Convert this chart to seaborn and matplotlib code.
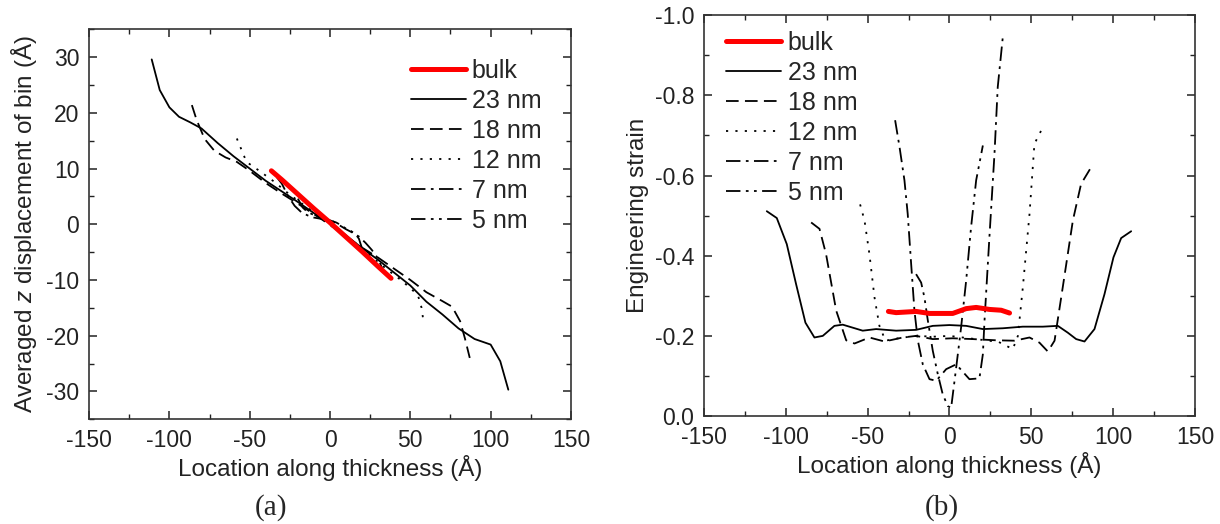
import numpy as np
import matplotlib
matplotlib.use("Agg")
import matplotlib.pyplot as plt
from matplotlib.ticker import MultipleLocator
import seaborn as sns

# ---------------- panel (a): averaged z displacement ----------------
a_bulk_x = [-36.5, -30, -20, -10, 0, 10, 20, 30, 38]
a_bulk_y = [9.6, 8.0, 5.4, 2.8, 0.3, -2.3, -4.9, -7.6, -9.7]

a_23_x = [-111, -106, -100, -94, -87, -80, -70, -60, -50, -40, -30, -20, -10, 0,
          10, 20, 30, 40, 50, 60, 70, 80, 90, 100, 106, 111]
a_23_y = [29.6, 24.1, 21.0, 19.3, 18.3, 17.2, 14.6, 12.2, 10.0, 7.8, 5.9, 4.0, 2.0, 0.2,
          -2.0, -4.3, -6.4, -8.7, -11.0, -13.9, -16.2, -18.7, -20.6, -21.6, -24.6, -29.7]

a_18_x = [-86, -83, -78, -72, -65, -58, -50, -40, -30, -20, -10, 0, 10, 20, 30, 40,
          50, 60, 70, 76, 81, 84, 87]
a_18_y = [21.4, 18.7, 15.3, 13.2, 12.0, 11.2, 9.6, 7.4, 5.5, 3.7, 1.8, -0.1, -2.2, -4.2,
          -6.0, -8.0, -10.0, -12.2, -13.8, -14.8, -17.4, -20.5, -24.0]

a_12_x = [-58, -55, -52, -45, -35, -25, -15, -5, 5, 15, 25, 35, 45, 52, 55, 57, 58]
a_12_y = [15.4, 13.3, 11.2, 9.8, 7.7, 5.3, 3.2, 1.0, -1.2, -3.4, -5.6, -8.0, -10.2,
          -12.0, -13.0, -15.0, -17.1]

a_7_x = [-33, -30, -26, -22, -18, -14, -10, -6, -2, 2, 6, 10, 14, 18, 22, 26, 30, 33]
a_7_y = [8.4, 7.3, 5.0, 3.3, 2.2, 1.6, 1.2, 1.0, 0.8, 0.5, -0.2, -0.9, -1.5, -2.2,
         -3.3, -4.6, -6.2, -8.3]

a_5_x = [-20, -17, -14, -11, -8, -5, -2, 1, 4, 7, 10, 13, 16, 18, 20]
a_5_y = [4.6, 3.0, 2.2, 1.8, 1.6, 1.2, 0.9, 0.6, 0.3, -0.2, -0.8, -1.2, -1.8, -2.6, -4.4]

# ---------------- panel (b): engineering strain ----------------
b_bulk_x = [-37.3, -32.6, -20.4, -12.2, 2.0, 10.2, 16.3, 24.4, 31.6, 36.7]
b_bulk_y = [-0.261, -0.258, -0.261, -0.256, -0.256, -0.268, -0.271, -0.266, -0.264, -0.257]

b_23_x = [-111.6, -105.5, -99.4, -93.7, -88.0, -82.5, -77.4, -70.3, -65.2, -53.0, -44.8,
          -32.6, -20.4, -10.2, 0, 10.2, 20.4, 32.6, 44.8, 57.0, 66.2, 72.3, 77.4, 82.5,
          88.6, 94.7, 100.2, 104.9, 111.0]
b_23_y = [-0.511, -0.494, -0.429, -0.329, -0.233, -0.196, -0.200, -0.225, -0.228, -0.213,
          -0.217, -0.213, -0.215, -0.225, -0.227, -0.225, -0.217, -0.219, -0.223, -0.223,
          -0.225, -0.208, -0.192, -0.186, -0.217, -0.304, -0.396, -0.444, -0.461]

b_18_x = [-84.5, -79.4, -75.4, -69.2, -63.1, -58.0, -48.9, -39.7, -28.5, -20.4, -10.2,
          2.0, 14.3, 28.5, 39.7, 48.9, 55.0, 60.1, 64.2, 69.2, 75.4, 80.4, 86.6]
b_18_y = [-0.483, -0.467, -0.404, -0.263, -0.189, -0.181, -0.196, -0.186, -0.196, -0.200,
          -0.192, -0.194, -0.192, -0.189, -0.188, -0.196, -0.183, -0.161, -0.188, -0.321,
          -0.488, -0.579, -0.621]

b_12_x = [-54.6, -51.9, -48.9, -45.8, -42.8, -39.1, -30, -20, -10, 0, 10, 20, 30,
          38.7, 41.8, 44.8, 48.9, 51.9, 57.0]
b_12_y = [-0.528, -0.488, -0.404, -0.296, -0.225, -0.188, -0.195, -0.200, -0.198, -0.200,
          -0.195, -0.190, -0.185, -0.167, -0.200, -0.320, -0.504, -0.679, -0.720]

b_7_x = [-33.2, -30.5, -27.5, -25.5, -23.4, -21.4, -19.3, -16.3, -12.2, -8.1, -2.0,
         4.1, 12.2, 18.3, 20.4, 21.4, 24.4, 27.5, 29.5, 32.6]
b_7_y = [-0.738, -0.671, -0.588, -0.504, -0.379, -0.263, -0.188, -0.129, -0.092, -0.088,
         -0.117, -0.129, -0.092, -0.094, -0.154, -0.237, -0.446, -0.654, -0.821, -0.946]

b_5_x = [-20.4, -17.3, -15.3, -13.2, -10.2, -7.1, -4.1, -1.0, 1.0, 3.1, 5.1, 7.1, 10.2,
         13.2, 16.3, 20.4]
b_5_y = [-0.354, -0.333, -0.296, -0.238, -0.163, -0.104, -0.054, -0.025, -0.020, -0.088,
         -0.154, -0.221, -0.338, -0.471, -0.588, -0.675]

labels = ["bulk", "23 nm", "18 nm", "12 nm", "7 nm", "5 nm"]
styles = ["-", "-", (0, (7, 3.5)), (0, (1.2, 4)), (0, (8, 3, 1.5, 3)),
          (0, (8, 3, 1.5, 3, 1.5, 3))]
colors = ["#ff0000", "black", "black", "black", "black", "black"]
widths = [3.6, 1.3, 1.3, 1.3, 1.3, 1.3]

a_series = [(a_bulk_x, a_bulk_y), (a_23_x, a_23_y), (a_18_x, a_18_y),
            (a_12_x, a_12_y), (a_7_x, a_7_y), (a_5_x, a_5_y)]
b_series = [(b_bulk_x, b_bulk_y), (b_23_x, b_23_y), (b_18_x, b_18_y),
            (b_12_x, b_12_y), (b_7_x, b_7_y), (b_5_x, b_5_y)]

sns.set_style("ticks")
plt.rcParams['font.family'] = ['Liberation Sans', 'DejaVu Sans']
plt.rcParams['axes.unicode_minus'] = False
plt.rcParams['mathtext.fontset'] = 'custom'
plt.rcParams['mathtext.it'] = 'Liberation Sans:italic'
plt.rcParams['mathtext.rm'] = 'Liberation Sans'

fig = plt.figure(figsize=(12.2, 5.24), dpi=100)
ax_a = fig.add_axes([0.073, 0.200, 0.395, 0.744])
ax_b = fig.add_axes([0.577, 0.206, 0.4025, 0.765])

legend_kw = dict(frameon=False, fontsize=18, handlelength=2.2, handletextpad=0.25,
                 labelspacing=0.24, borderaxespad=0.3)


def draw_panel(ax, series):
    for (x, y), lab, ls, c, lw in zip(series, labels, styles, colors, widths):
        sns.lineplot(x=x, y=y, ax=ax, color=c, linewidth=lw, label=lab,
                     sort=False, estimator=None, zorder=5 if lab == "bulk" else 3)
        ax.lines[-1].set_linestyle(ls)
    for side in ["top", "right", "left", "bottom"]:
        ax.spines[side].set_visible(True)
        ax.spines[side].set_color("#333333")
        ax.spines[side].set_linewidth(1.2)
    ax.tick_params(which="both", direction="in", top=True, right=True,
                   labelsize=16.5, colors="#222222", pad=7)
    ax.tick_params(which="major", length=6, width=1.1)
    ax.tick_params(which="minor", length=3.5, width=1.0)
    ax.set_xlim(-150, 150)
    ax.xaxis.set_major_locator(MultipleLocator(50))
    ax.xaxis.set_minor_locator(MultipleLocator(25))
    ax.set_xlabel("Location along thickness (Å)", fontsize=17.5, color="#222222",
                  labelpad=2)


draw_panel(ax_a, a_series)
ax_a.set_ylim(-35, 35)
ax_a.yaxis.set_major_locator(MultipleLocator(10))
ax_a.yaxis.set_minor_locator(MultipleLocator(5))
ax_a.set_ylabel(r"Averaged $z$ displacement of bin (Å)", fontsize=17.5,
                color="#222222", labelpad=5)
ax_a.legend(loc="upper right", bbox_to_anchor=(0.975, 0.97), **legend_kw)

draw_panel(ax_b, b_series)
ax_b.set_ylim(0, -1.0)
ax_b.yaxis.set_major_locator(MultipleLocator(0.2))
ax_b.yaxis.set_minor_locator(MultipleLocator(0.1))
ax_b.yaxis.set_major_formatter(lambda v, pos: f"{v:.1f}".replace("-0.0", "0.0"))
ax_b.set_ylabel("Engineering strain", fontsize=17.5, color="#222222", labelpad=4)
ax_b.legend(loc="upper left", bbox_to_anchor=(0.01, 1.005), **legend_kw)

fig.text(0.222, 0.018, "(a)", family="Liberation Serif", fontsize=21, ha="center")
fig.text(0.772, 0.018, "(b)", family="Liberation Serif", fontsize=21, ha="center")

fig.savefig("out.png", dpi=100)
